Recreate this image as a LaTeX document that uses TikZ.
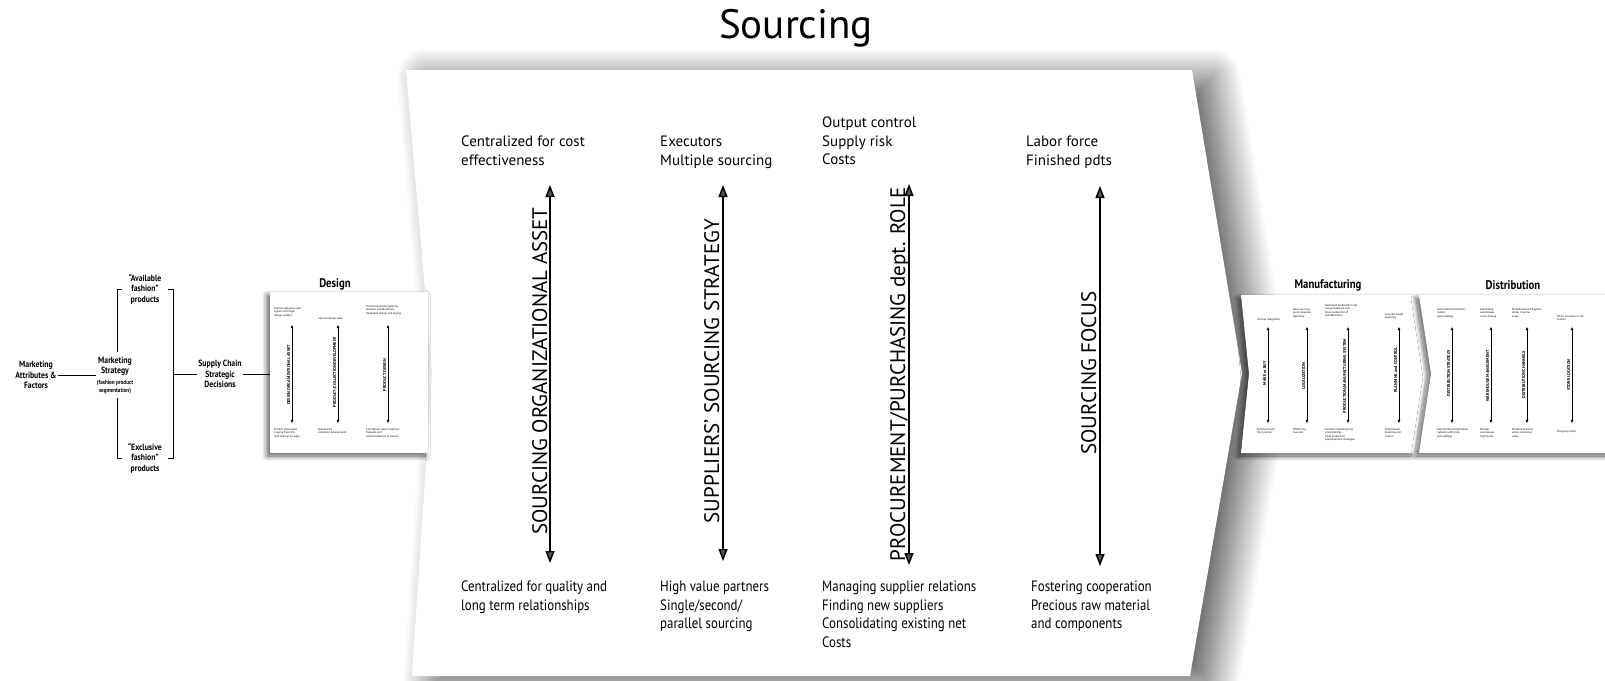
\documentclass[tikz,border=0pt]{standalone}
\usepackage{fontspec}
\setmainfont{PT Sans}
\newfontfamily\condfont{PT Sans}[FakeStretch=0.86]
\usetikzlibrary{arrows.meta,shadows.blur}

\tikzset{
  chevronshadow/.style={fill=white, blur shadow={shadow xshift=20pt, shadow yshift=-8pt,
      shadow blur radius=30pt, shadow blur steps=36, shadow opacity=65}},
  panel/.style={fill=white, blur shadow={shadow xshift=-3pt, shadow yshift=-3pt,
      shadow blur radius=5pt, shadow blur steps=12, shadow opacity=65}},
  note/.style={anchor=north west, inner sep=0pt, align=left, font=\fontsize{15}{18.5}\selectfont},
  condnote/.style={note, font=\condfont\fontsize{15}{18.5}\selectfont},
  axislabel/.style={rotate=90, anchor=base, inner sep=0pt, font=\fontsize{21}{25}\selectfont},
  bigaxis/.style={line width=1.4pt, {Triangle[length=12pt,width=9pt]}-{Triangle[length=12pt,width=9pt]}},
  smallaxis/.style={line width=0.8pt, {Triangle[length=3.2pt,width=2.6pt]}-{Triangle[length=3.2pt,width=2.6pt]}},
  tinynote/.style={anchor=north west, inner sep=0pt, align=left, font=\fontsize{2.8}{3.6}\selectfont},
  tinylabel/.style={rotate=90, anchor=base, inner sep=0pt, font=\bfseries\fontsize{4.2}{5}\selectfont},
  leftlbl/.style={align=center, inner sep=1pt, font=\condfont\bfseries\fontsize{9}{10.5}\selectfont},
  stagelbl/.style={inner sep=0pt, font=\condfont\bfseries\fontsize{12.5}{14}\selectfont},
  link/.style={line width=0.9pt},
}
\newcommand{\segsize}{\fontsize{6}{6.5}\selectfont}

\begin{document}
\begin{tikzpicture}[x=1pt,y=-1pt]
\useasboundingbox (0,0) rectangle (1605,680);

% ---------- title ----------
\node[anchor=base, inner sep=0pt, font=\fontsize{41}{48}\selectfont] (title) at (796,38) {Sourcing};

% ---------- sourcing chevron ----------
\path[chevronshadow] (406,70) -- (1192,70) -- (1242,373) -- (1190,676) -- (412,676) -- (432,373) -- cycle;

% column notes, top
\node[note] (c1top) at (461,136) {Centralized for cost\\effectiveness};
\node[note] (c2top) at (660,136) {Executors\\Multiple sourcing};
\node[note] (c3top) at (822,117) {Output control\\Supply risk\\Costs};
\node[note] (c4top) at (1026,136) {Labor force\\Finished pdts};

% column notes, bottom
\node[condnote] (c1bot) at (461,581) {Centralized for quality and\\long term relationships};
\node[condnote] (c2bot) at (660,581) {High value partners\\Single/second/\\parallel sourcing};
\node[condnote] (c3bot) at (822,581) {Managing supplier relations\\Finding new suppliers\\Consolidating existing net\\Costs};
\node[condnote] (c4bot) at (1031,581) {Fostering cooperation\\Precious raw material\\and components};

% axes
\foreach \n/\x/\ya/\yb in {1/550/185/563, 2/723/185/561, 3/909/184/565, 4/1100/186/566}{
  \coordinate (ax\n t) at (\x,\ya);
  \coordinate (ax\n b) at (\x,\yb);
  \draw[bigaxis] (ax\n t) -- (ax\n b);
}
\node[axislabel] (lab1) at (547,371) {SOURCING ORGANIZATIONAL ASSET};
\node[axislabel] (lab2) at (719,371) {SUPPLIERS' SOURCING STRATEGY};
\node[axislabel] (lab3) at (905,374) {PROCUREMENT/PURCHASING dept. ROLE};
\node[axislabel] (lab4) at (1096,373) {SOURCING FOCUS};

% ---------- marketing side ----------
\node[leftlbl] (mktA) at (36,375) {Marketing\\Attributes \&\\Factors};
\node[leftlbl] (mktS) at (115,375) {Marketing\\Strategy\\{\segsize(fashion product}\\[-2.5pt]{\segsize segmentation)}};
\node[leftlbl] (avail) at (145,289) {“Available\\fashion”\\products};
\node[leftlbl] (excl) at (145,458) {“Exclusive\\fashion”\\products};
\node[leftlbl] (scd) at (220,374) {Supply Chain\\Strategic\\Decisions};

\draw[link] (mktA.east) -- (mktA.east -| mktS.west);

\coordinate (bL1) at (122,289); \coordinate (bL2) at (117,289); \coordinate (bL3) at (117,352);
\coordinate (bL4) at (117,398); \coordinate (bL5) at (117,458); \coordinate (bL6) at (122,458);
\draw[link] (bL1) -- (bL2) -- (bL3);
\draw[link] (bL4) -- (bL5) -- (bL6);
\coordinate (bR1) at (168,289); \coordinate (bR2) at (173,289);
\coordinate (bR3) at (173,458); \coordinate (bR4) at (168,458);
\draw[link] (bR1) -- (bR2) -- (bR3) -- (bR4);
\coordinate (bRm) at (173,374);
\draw[link] (bRm) -- (bRm -| scd.west);

% ---------- design panel ----------
\node[panel, minimum width=158pt, minimum height=161pt, inner sep=0pt] (design) at (349,372.5) {};
\node[stagelbl] (designlbl) at (335,284) {Design};
\draw[link] (scd.east) -- (scd.east -| design.west);

\foreach \n/\x in {1/292, 2/338, 3/388}{
  \coordinate (dt\n) at (\x,325);
  \coordinate (db\n) at (\x,423);
  \draw[smallaxis] (dt\n) -- (db\n);
}
\node[tinylabel] (dl1) at (290,375) {DESIGN ORGANIZATIONAL ASSET};
\node[tinylabel] (dl2) at (336,372) {PRODUCT/COLLECTION DEVELOPMENT};
\node[tinylabel] (dl3) at (386,375) {PRODUCT DESIGN};
\node[tinynote] (dtop1) at (274,307) {Fashion designers and\\stylists with high\\design content};
\node[tinynote] (dtop2) at (318,317) {Internal design team};
\node[tinynote] (dtop3) at (366,305) {Trend forecasting agencies\\designer collaborations\\integrated design and buying};
\node[tinynote] (dbot1) at (274,428) {Product developers\\copying from the\\high fashion runways};
\node[tinynote] (dbot2) at (318,428) {Outsourced\\collection development};
\node[tinynote] (dbot3) at (366,428) {Fast fashion quick response\\frequent and\\small collections in season};

% ---------- manufacturing panel ----------
\path[panel] (1241,295) -- (1414,295) -- (1426,374) -- (1414,453) -- (1241,453) -- (1249,374) -- cycle;
\node[stagelbl] (mfglbl) at (1328,285) {Manufacturing};
\foreach \n/\x in {1/1268, 2/1307, 3/1348, 4/1399}{
  \coordinate (mt\n) at (\x,327);
  \coordinate (mb\n) at (\x,423);
  \draw[smallaxis] (mt\n) -- (mb\n);
}
\node[tinylabel] (ml1) at (1266,373) {MAKE or BUY};
\node[tinylabel] (ml2) at (1305,376) {LOCALIZATION};
\node[tinylabel] (ml3) at (1346,376) {PRODUCTION/MANUFACTURING SYSTEM};
\node[tinylabel] (ml4) at (1397,370) {PLANNING and CONTROL};
\node[tinynote] (mtop1) at (1257,318) {Vertical integration};
\node[tinynote] (mtop2) at (1293,308) {Near sourcing\\quick response\\flexibility};
\node[tinynote] (mtop3) at (1325,304) {Dedicated production lines\\long production runs\\mass production of\\standard items};
\node[tinynote] (mtop4) at (1385,313) {Forecast based\\planning};
\node[tinynote] (mbot1) at (1257,428) {Outsourcing to\\third parties};
\node[tinynote] (mbot2) at (1293,428) {Offshoring\\low cost};
\node[tinynote] (mbot3) at (1325,428) {Flexible manufacturing\\small batches\\agile production\\postponement strategies};
\node[tinynote] (mbot4) at (1385,428) {Order based\\planning and\\control};

% ---------- distribution panel ----------
\path[panel] (1419,295) -- (1615,295) -- (1615,453) -- (1419,453) -- (1431,374) -- cycle;
\node[stagelbl] (distlbl) at (1513,285) {Distribution};
\foreach \n/\x in {1/1452, 2/1491, 3/1527, 4/1572}{
  \coordinate (st\n) at (\x,327);
  \coordinate (sb\n) at (\x,423);
  \draw[smallaxis] (st\n) -- (sb\n);
}
\node[tinylabel] (sl1) at (1450,373) {DISTRIBUTION STRATEGY};
\node[tinylabel] (sl2) at (1489,376) {WAREHOUSE MANAGEMENT};
\node[tinylabel] (sl3) at (1525,375) {DISTRIBUTION CHANNELS};
\node[tinylabel] (sl4) at (1570,375) {STORE LOCATION};
\node[tinynote] (stop1) at (1437,308) {Centralized distribution\\centers\\push strategy};
\node[tinynote] (stop2) at (1480,308) {Automated\\warehouses\\cross docking};
\node[tinynote] (stop3) at (1512,308) {Monobrand and flagship\\stores in prime\\areas};
\node[tinynote] (stop4) at (1557,315) {Prime locations in city\\centers};
\node[tinynote] (sbot1) at (1437,428) {Decentralized distribution\\network with local\\pull strategy};
\node[tinynote] (sbot2) at (1480,428) {Manual\\warehouses\\high stocks};
\node[tinynote] (sbot3) at (1512,428) {Multibrand stores\\and e-commerce\\sales};
\node[tinynote] (sbot4) at (1557,430) {Shopping malls};
\end{tikzpicture}
\end{document}
